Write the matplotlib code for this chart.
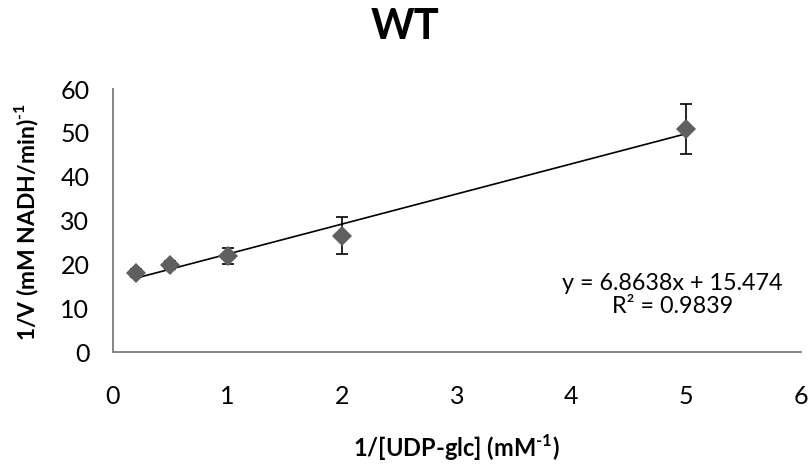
import matplotlib
matplotlib.use("Agg")
import matplotlib.pyplot as plt
import numpy as np

# Lineweaver-Burk data for the wild-type enzyme
inv_substrate = [0.2, 0.5, 1.0, 2.0, 5.0]          # 1/[UDP-glc] (mM^-1)
inv_velocity = [18.1, 19.8, 21.9, 26.5, 50.9]      # 1/V (mM NADH/min)^-1
inv_velocity_err = [0.9, 0.9, 1.8, 4.2, 5.7]

# Linear trendline reported on the chart
slope = 6.8638
intercept = 15.474
r_squared = 0.9839

x_ticks = [0, 1, 2, 3, 4, 5, 6]
y_ticks = [0, 10, 20, 30, 40, 50, 60]

plt.rcParams["font.family"] = ["Lato", "DejaVu Sans"]
plt.rcParams["mathtext.fontset"] = "custom"
plt.rcParams["mathtext.rm"] = "Lato:bold"
plt.rcParams["mathtext.bf"] = "Lato:bold"

fig = plt.figure(figsize=(8.1, 4.65), dpi=100)
ax = fig.add_axes([0.1395, 0.243, 0.849, 0.5656])

# trendline over the measured range
xs = np.array([min(inv_substrate), max(inv_substrate)])
ax.plot(xs, slope * xs + intercept, color="black", lw=1.2, zorder=2)

ax.errorbar(inv_substrate, inv_velocity, yerr=inv_velocity_err,
            fmt="none", ecolor="black", elinewidth=1.2, capsize=4.3,
            capthick=1.2, zorder=3)
ax.plot(inv_substrate, inv_velocity, linestyle="none", marker="D",
        markersize=10, color="#5f5f5f", markeredgewidth=0, zorder=4)

ax.text(4.88, 13.0, f"y = {slope}x + {intercept}\nR² = {r_squared}",
        ha="center", va="center", fontsize=16.8, linespacing=1.15)

ax.set_xlim(0, 6)
ax.set_ylim(0, 60)
ax.set_xticks(x_ticks)
ax.set_yticks(y_ticks)
ax.tick_params(axis="both", length=0, labelsize=18)
ax.tick_params(axis="y", pad=17)
ax.tick_params(axis="x", pad=24)

for side in ("top", "right"):
    ax.spines[side].set_visible(False)
for side in ("left", "bottom"):
    ax.spines[side].set_color("#868686")
    ax.spines[side].set_linewidth(1.4)

fig.text(0.5, 0.942, "WT", ha="center", va="center", fontsize=30,
         fontweight="bold")
fig.text(0.564, 0.038, "1/[UDP-glc] (mM$^{\\text{-1}}$)", ha="center",
         va="center", fontsize=17, fontweight="bold")
fig.text(0.033, 0.523, "1/V (mM NADH/min)$^{\\text{-1}}$", ha="center",
         va="center", rotation=90, fontsize=16.5, fontweight="bold")

fig.savefig("out.png", dpi=100)
